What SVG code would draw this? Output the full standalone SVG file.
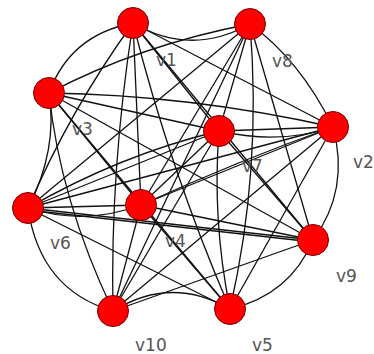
<svg xmlns="http://www.w3.org/2000/svg" width="374" height="354" viewBox="0 0 374 354">
<style>
.e{fill:none;stroke:#111;stroke-width:1.3}
.n{fill:#f00;stroke:#700;stroke-width:1}
.t{font-family:"DejaVu Sans",sans-serif;font-size:17px;fill:#555}
</style>
<rect width="374" height="354" fill="#fff"/>
<g id="edges">
<path class="e" d="M133,23 Q70,35 49,93"/>
<path class="e" d="M133,23 Q191,57 250,24"/>
<path class="e" d="M250,24 Q300,60 333,127"/>
<path class="e" d="M333,127 Q350,190 313,240"/>
<path class="e" d="M313,240 Q290,295 230,309"/>
<path class="e" d="M230,309 Q171,275 113,311"/>
<path class="e" d="M113,311 Q40,290 28,208"/>
<path class="e" d="M28,208 Q58,150 49,93"/>
<path class="e" d="M133,23 Q70,110 28,208"/>
<path class="e" d="M133,23 Q110,170 113,311"/>
<path class="e" d="M133,23 L141,205"/>
<path class="e" d="M133,23 Q170,170 230,309"/>
<path class="e" d="M133,23 L313,240"/>
<path class="e" d="M133,23 L219,131"/>
<path class="e" d="M133,23 L333,127"/>
<path class="e" d="M250,24 Q140,45 49,93"/>
<path class="e" d="M250,24 L28,208"/>
<path class="e" d="M250,24 L141,205"/>
<path class="e" d="M250,24 L113,311"/>
<path class="e" d="M250,24 L219,131"/>
<path class="e" d="M250,24 Q262,170 230,309"/>
<path class="e" d="M250,24 L313,240"/>
<path class="e" d="M49,93 L219,131"/>
<path class="e" d="M49,93 Q190,95 333,127"/>
<path class="e" d="M49,93 L141,205"/>
<path class="e" d="M49,93 L313,240"/>
<path class="e" d="M49,93 L230,309"/>
<path class="e" d="M49,93 Q60,200 113,311"/>
<path class="e" d="M219,131 L333,127"/>
<path class="e" d="M219,131 Q280,145 333,127"/>
<path class="e" d="M219,131 L28,208"/>
<path class="e" d="M219,131 Q120,155 28,208"/>
<path class="e" d="M219,131 L141,205"/>
<path class="e" d="M219,131 L313,240"/>
<path class="e" d="M219,131 L113,311"/>
<path class="e" d="M219,131 Q212,220 230,309"/>
<path class="e" d="M333,127 L28,208"/>
<path class="e" d="M333,127 L141,205"/>
<path class="e" d="M333,127 Q240,160 141,205"/>
<path class="e" d="M333,127 L113,311"/>
<path class="e" d="M333,127 L230,309"/>
<path class="e" d="M28,208 L141,205"/>
<path class="e" d="M28,208 Q85,226 141,205"/>
<path class="e" d="M28,208 L313,240"/>
<path class="e" d="M28,210 L313,242"/>
<path class="e" d="M28,208 L230,309"/>
<path class="e" d="M141,205 L313,240"/>
<path class="e" d="M141,205 L113,311"/>
<path class="e" d="M141,205 L230,309"/>
<path class="e" d="M313,240 L113,311"/>
</g>
<g id="v1"><circle class="n" cx="133" cy="23" r="15.5"/><text class="t" x="156" y="66">v1</text></g>
<g id="v8"><circle class="n" cx="250" cy="24" r="15.5"/><text class="t" x="272" y="67">v8</text></g>
<g id="v3"><circle class="n" cx="49" cy="93" r="15.5"/><text class="t" x="72" y="135">v3</text></g>
<g id="v7"><circle class="n" cx="219" cy="131" r="15.5"/><text class="t" x="242" y="172">v7</text></g>
<g id="v2"><circle class="n" cx="333" cy="127" r="15.5"/><text class="t" x="353" y="168">v2</text></g>
<g id="v6"><circle class="n" cx="28" cy="208" r="15.5"/><text class="t" x="50" y="249">v6</text></g>
<g id="v4"><circle class="n" cx="141" cy="205" r="15.5"/><text class="t" x="165" y="247">v4</text></g>
<g id="v9"><circle class="n" cx="313" cy="240" r="15.5"/><text class="t" x="336" y="282">v9</text></g>
<g id="v10"><circle class="n" cx="113" cy="311" r="15.5"/><text class="t" x="135" y="351">v10</text></g>
<g id="v5"><circle class="n" cx="230" cy="309" r="15.5"/><text class="t" x="252" y="351">v5</text></g>
</svg>
